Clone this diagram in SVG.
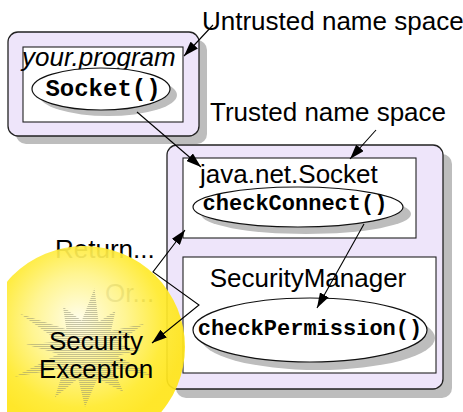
<svg xmlns="http://www.w3.org/2000/svg" width="463" height="412" viewBox="0 0 463 412">
  <defs>
    <style>
      .space { fill: #EEE5FA; stroke: #222; stroke-width: 1.3; }
      .shadow { fill: #BDBDBD; stroke: none; }
      .inner { fill: #FFFFFF; stroke: #222; stroke-width: 1.1; }
      .oval { fill: #FFFFFF; stroke: #111; stroke-width: 1.2; }
      .sans { font-family: "Liberation Sans", Arial, sans-serif; font-size: 26px; fill: #000; }
      .mono { font-family: "Liberation Mono", "Courier New", monospace; font-weight: bold; fill: #000; }
      .link { fill: none; stroke: #000; stroke-width: 1.1; }
    </style>
    <marker id="head" viewBox="0 0 15 10" refX="15" refY="5" markerWidth="15" markerHeight="10" markerUnits="userSpaceOnUse" orient="auto-start-reverse">
      <path d="M0,0 L15,5 L0,10 z" fill="#000"/>
    </marker>
    <radialGradient id="glow" cx="80" cy="325" r="105" fx="78" fy="318" gradientUnits="userSpaceOnUse">
      <stop offset="0" stop-color="#FFFDE6"/>
      <stop offset="0.45" stop-color="#FFF48A"/>
      <stop offset="0.8" stop-color="#FFEA2E"/>
      <stop offset="1" stop-color="#FFE51A"/>
    </radialGradient>
    <pattern id="hatch" width="3" height="2" patternUnits="userSpaceOnUse">
      <line x1="0" y1="0.5" x2="3" y2="0.5" stroke="#8A8A70" stroke-width="0.9"/>
    </pattern>
    <clipPath id="page">
      <rect x="7" y="0" width="456" height="412"/>
    </clipPath>
  </defs>

  <!-- untrusted name space -->
  <g id="untrusted">
    <rect class="shadow" x="16" y="40" width="191" height="104" rx="10"/>
    <rect class="space" x="8" y="32" width="191" height="104" rx="10"/>
    <rect class="inner" x="23" y="47" width="160" height="75"/>
    <text class="sans" x="22" y="66" font-style="italic">your.program</text>
  </g>
  <g id="socket-call">
    <ellipse class="shadow" cx="108" cy="95" rx="69" ry="21"/>
    <ellipse class="oval" cx="101" cy="89" rx="69" ry="21"/>
    <text class="mono" x="103" y="96" font-size="24" text-anchor="middle">Socket()</text>
  </g>

  <!-- trusted name space -->
  <g id="trusted">
    <rect class="shadow" x="176" y="154" width="276" height="244" rx="10"/>
    <rect class="space" x="167" y="145" width="276" height="244" rx="10"/>
  </g>
  <g id="java-net-socket">
    <rect class="inner" x="183" y="158" width="233" height="80"/>
    <text class="sans" x="200" y="183">java.net.Socket</text>
    <ellipse class="shadow" cx="306" cy="214" rx="105" ry="20"/>
    <ellipse class="oval" cx="298" cy="207" rx="105" ry="20"/>
    <text class="mono" x="295" y="210" font-size="22" text-anchor="middle">checkConnect()</text>
  </g>
  <g id="security-manager">
    <rect class="inner" x="183" y="257" width="253" height="116"/>
    <text class="sans" x="308" y="287" text-anchor="middle">SecurityManager</text>
    <ellipse class="shadow" cx="318" cy="338" rx="117" ry="32"/>
    <ellipse class="oval" cx="310" cy="330" rx="117" ry="32"/>
    <text class="mono" x="310" y="335" font-size="22" text-anchor="middle">checkPermission()</text>
  </g>

  <!-- captions -->
  <g id="captions">
    <text class="sans" x="202" y="30" font-size="25">Untrusted name space</text>
    <text class="sans" x="210" y="121">Trusted name space</text>
    <text class="sans" x="55" y="258" font-size="25">Return...</text>
    <text class="sans" x="105" y="302" font-size="25">Or...</text>
  </g>

  <!-- exception burst -->
  <g id="security-exception">
    <circle cx="84" cy="347" r="101" fill="url(#glow)" opacity="0.93" clip-path="url(#page)"/>
    <polygon fill="url(#hatch)" opacity="0.55" points="94.5,288.3 98.5,321.9 115.5,310.7 111,330.7 144.2,323.8 117.3,343.5 140,350 117.5,355.7 152.9,376.2 112.3,367.6 123.4,392.1 97.5,378.5 85,406.9 78.2,378.4 54.7,397.5 64.2,368.3 14.7,376.7 58.3,353.9 26.2,344.6 59.2,341.5 20,313.8 66.4,329.2 63,306.7 81.8,320.7"/>
    <text class="sans" x="96" y="350" text-anchor="middle" font-size="25">Security</text>
    <text class="sans" x="96" y="378" text-anchor="middle" font-size="25">Exception</text>
  </g>

  <!-- connectors -->
  <g id="connectors">
    <path class="link" d="M213,25 L184,56" marker-end="url(#head)"/>
    <path class="link" d="M376,130 L350,159" marker-end="url(#head)"/>
    <path class="link" d="M137,112 L201,167" marker-end="url(#head)"/>
    <path class="link" d="M364,224 L317,308" marker-end="url(#head)"/>
    <path class="link" d="M185,230 L153,272 L199,305 L152,343" marker-start="url(#head)" marker-end="url(#head)"/>
  </g>
</svg>
